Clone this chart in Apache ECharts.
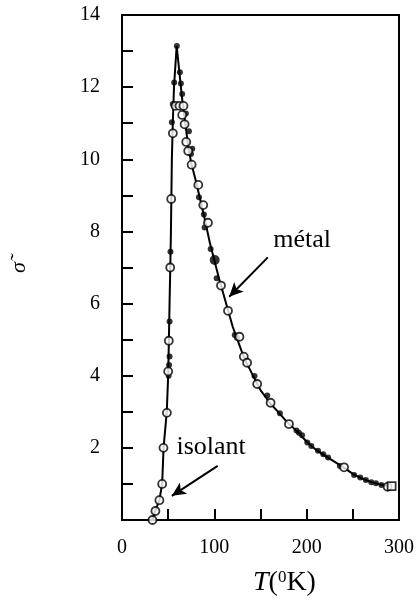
<!DOCTYPE html>
<html>
<head>
<meta charset="utf-8">
<script src="https://cdn.jsdelivr.net/npm/echarts@6/dist/echarts.min.js"></script>
<style>html,body{margin:0;padding:0;background:#fff}#c{width:419px;height:607px}</style>
</head>
<body>
<div id="c"></div>
<script>
// Drawn curve: rising branch then falling branch
const curve = [[33,0],[36,0.25],[40.5,0.55],[43.5,1.0],[45,2.0],[48.5,3.0],[50,4.0],[50.8,5.0],[51.5,6.0],[52.3,7.0],[53,8.0],[53.5,9.0],[54,10.0],[55,11.0],[56.3,12.0],[59.2,13.14],
  [61,12.7],[63,12.2],[65,11.7],[67,11.3],[69.5,10.8],[72,10.3],[75,9.9],[80,9.4],[85,8.85],[90,8.3],[95,7.7],[100,7.2],[105,6.7],[110,6.25],[115,5.8],[120,5.35],[125,5.0],[130,4.65],[135,4.35],[140,4.1],[145,3.85],[150,3.6],[160,3.25],[170,2.97],[180,2.68],[190,2.45],[200,2.17],[210,1.95],[220,1.78],[230,1.62],[240,1.46],[250,1.28],[260,1.15],[270,1.05],[280,0.98],[292,0.93]];
const filledPts = [[50.5,4.0],[51,4.3],[51.5,4.53],[51.5,5.5],[52.5,7.44],[54,11.03],[55,11.53],[56.5,12.13],[59.4,13.14],
  [62.7,12.41],[63.8,12.1],[65.2,11.81],[69.2,11.27],[72.5,10.78],[74.7,10.15],[76.1,10.29],[83.3,8.95],[88.7,8.47],[89.5,8.11],[96,7.51],[102.5,6.7],[122.1,5.13],[124.5,5.05],[143.5,3.99],[157.3,3.45],[171,2.96],[189,2.48],[191.6,2.42],[195,2.35],[200.7,2.15],[205,2.05],[212.3,1.92],[218,1.82],[223.2,1.73],[236,1.5],[251.4,1.25],[258,1.18],[264.1,1.11],[270,1.05],[275,1.02],[281,0.97]];
const bigPts = [[100.4,7.21]];
const openPts = [[33,0.0],[36.2,0.25],[40.5,0.55],[43.5,1.0],[44.9,2.0],[48.6,2.97],[50,4.12],[50.7,4.97],[52.2,7.0],[53.3,8.9],[55.1,10.72],[58,11.48],
  [62.3,11.48],[66.6,11.48],[65.2,11.23],[67.8,10.97],[69.6,10.48],[71.7,10.23],[75.4,9.85],[82.6,9.29],[88,8.73],[93.1,8.24],[107.2,6.5],[114.8,5.8],[127.2,5.08],[131.9,4.53],[135.5,4.36],[146.4,3.77],[160.9,3.25],[180.8,2.66],[240.5,1.46],[287.7,0.92]];
const squarePts = [[292,0.94]];
const xLabels = [0,100,200,300];
const yLabels = [2,4,6,8,10,12,14];
const annotations = [{name:'métal', coord:[195,7.76]},{name:'isolant', coord:[96.5,2.02]}];
const arrows = [[[157.9,7.28],[116.1,6.19]],[[103.6,1.50],[54.0,0.67]]];

const serif = '"Liberation Serif", "DejaVu Serif", serif';
const chart = echarts.init(document.getElementById('c'));
chart.setOption({
  animation:false,
  backgroundColor:'#fff',
  grid:{left:122, top:15, right:20, bottom:87, show:true, borderColor:'#000', borderWidth:2},
  xAxis:{type:'value', min:0, max:300, interval:50,
    axisLine:{lineStyle:{color:'#000', width:2}},
    axisTick:{inside:true, length:11, lineStyle:{color:'#000', width:2}},
    splitLine:{show:false},
    axisLabel:{margin:18, color:'#000', fontFamily:serif, fontSize:20,
      formatter:v=> xLabels.indexOf(v)>=0 ? String(v) : ''}},
  yAxis:{type:'value', min:0, max:14, interval:1,
    name:'σ\u0303', nameLocation:'middle', nameRotate:90, nameGap:92,
    nameTextStyle:{fontFamily:serif, fontStyle:'italic', fontSize:22, color:'#000'},
    axisLine:{lineStyle:{color:'#000', width:2}},
    axisTick:{inside:true, length:11, lineStyle:{color:'#000', width:2}},
    splitLine:{show:false},
    axisLabel:{margin:22, color:'#000', fontFamily:serif, fontSize:20, showMinLabel:true, showMaxLabel:true,
      formatter:v=> yLabels.indexOf(v)>=0 ? String(v) : ''}},
  graphic:[{type:'text', left:253, top:569,
    style:{text:'{it|T}{n|(}{sup|0}{n|K)}', fill:'#000',
      rich:{it:{fontFamily:serif, fontStyle:'italic', fontSize:28, verticalAlign:'bottom'},
            n:{fontFamily:serif, fontSize:28, verticalAlign:'bottom'},
            sup:{fontFamily:serif, fontSize:17, verticalAlign:'top'}}}}],
  series:[
    {type:'line', data:curve, showSymbol:false, symbol:'none', lineStyle:{color:'#000', width:2}, z:1,
      markLine:{silent:true, symbol:['none','arrow'], symbolSize:[10,14], label:{show:false},
        lineStyle:{color:'#000', width:2, type:'solid'},
        data: arrows.map(a=>[{coord:a[0]},{coord:a[1]}])},
      markPoint:{silent:true, symbol:'circle', symbolSize:0,
        label:{show:true, position:'inside', color:'#000', fontFamily:serif, fontSize:26, formatter:'{b}'},
        data: annotations.map(a=>({name:a.name, coord:a.coord}))}},
    {type:'scatter', data:filledPts, symbol:'circle', symbolSize:6, itemStyle:{color:'#000'}, z:3},
    {type:'scatter', data:bigPts, symbol:'circle', symbolSize:10, itemStyle:{color:'#000'}, z:3},
    {type:'scatter', data:openPts, symbol:'circle', symbolSize:8, itemStyle:{color:'#fff', borderColor:'#000', borderWidth:1.8}, z:4},
    {type:'scatter', data:squarePts, symbol:'rect', symbolSize:8, itemStyle:{color:'#fff', borderColor:'#000', borderWidth:1.8}, z:4}
  ]
});
</script>
</body>
</html>
